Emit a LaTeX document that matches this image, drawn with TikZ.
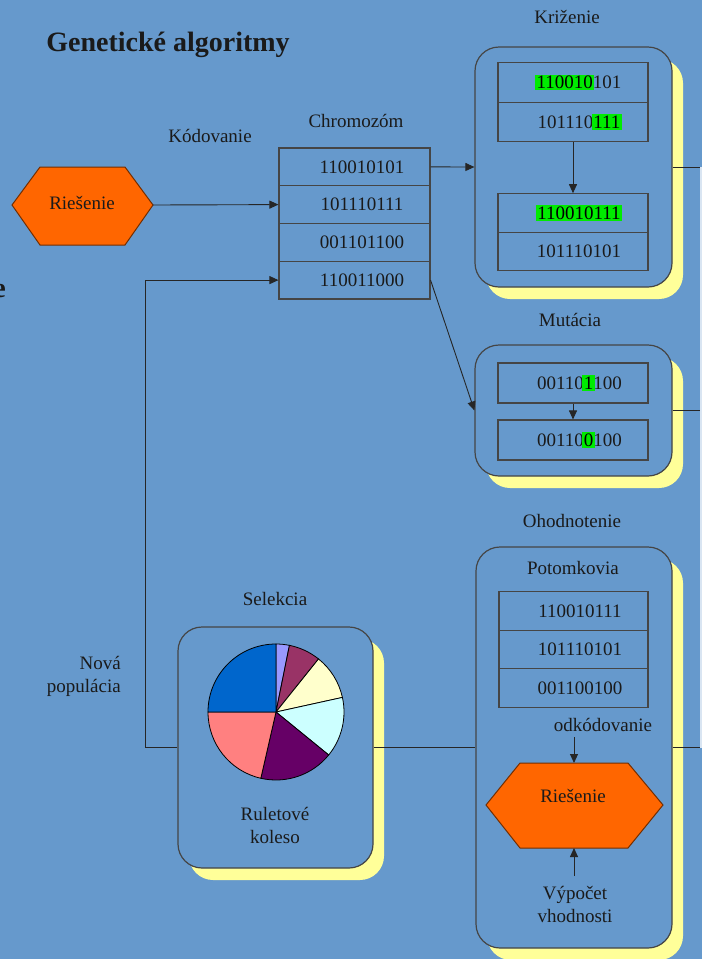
\documentclass[tikz,border=0pt]{standalone}
\usepackage{fontspec}
\setmainfont{Liberation Serif}
\usetikzlibrary{arrows.meta,shadows}
\definecolor{bg}{HTML}{6699CC}
\definecolor{hexor}{HTML}{FF6600}
\definecolor{shadowy}{HTML}{FFFF99}
\definecolor{hlg}{RGB}{0,235,0}
\definecolor{txt}{HTML}{1A1A1A}
\definecolor{edge}{HTML}{454545}
\definecolor{pieA}{HTML}{9999FF}
\definecolor{pieB}{HTML}{993366}
\definecolor{pieC}{HTML}{FFFFCC}
\definecolor{pieD}{HTML}{CCFFFF}
\definecolor{pieE}{HTML}{660066}
\definecolor{pieF}{HTML}{FF8080}
\definecolor{pieG}{HTML}{0066CC}
\newcommand\hlt[1]{{\setlength{\fboxsep}{1.5pt}\hspace*{-1.5pt}\colorbox{hlg}{\vphantom{0}\color{black}#1}\hspace*{-1.5pt}}}
\tikzset{
  lbl/.style={font=\fontsize{19}{23}\selectfont, text=txt, inner sep=0pt},
  rowbox/.style={draw=edge, line width=1.1pt, minimum width=150pt, inner sep=0pt,
    font=\fontsize{19}{23}\selectfont, text=txt},
  rbox/.style={draw=edge, line width=1.2pt, rounded corners=24pt, fill=bg,
    drop shadow={shadow xshift=11pt, shadow yshift=-12pt, fill=shadowy, opacity=1}},
  conn/.style={draw=black!85, line width=0.9pt},
  arr/.style={conn, -{Triangle[length=9pt,width=8pt]}},
  hexa/.style={fill=hexor, draw=black!55!hexor, line width=1pt},
  slice/.style={draw=black, line width=0.8pt}
}
\begin{document}
\begin{tikzpicture}[x=1pt,y=-1pt]
\useasboundingbox (0,0) rectangle (702,959);
\fill[bg] (0,0) rectangle (702,959);
\begin{scope}
  \clip (0,0) rectangle (702,959);
  \node[anchor=east, font=\bfseries\fontsize{28}{32}\selectfont, text=txt, inner sep=0pt] (frag) at (6,291) {e};
\end{scope}

% title and labels
\node[font=\bfseries\fontsize{28}{32}\selectfont, text=txt] (title) at (168,45) {Genetické algoritmy};
\node[lbl] (kod) at (210,136) {Kódovanie};
\node[lbl] (chrom) at (356,121) {Chromozóm};
\node[lbl] (krizl) at (567,17) {Križenie};
\node[lbl] (mutl) at (570,320) {Mutácia};
\node[lbl] (ohodl) at (572,521) {Ohodnotenie};
\node[lbl] (sell) at (275,599) {Selekcia};
\node[lbl, align=right, anchor=east] (nova) at (121,676) {Nová\\populácia};

% left hexagon
\coordinate (hL) at (12,205);
\coordinate (hR) at (153,205);
\draw[hexa] (hL) -- (40,167) -- (125,167) -- (hR) -- (125,245) -- (40,245) -- cycle;
\node[lbl] (sol1) at (82,203) {Riešenie};

% chromosome table
\node[rowbox, minimum width=151pt, minimum height=37.75pt] (c1) at (354.5,166.9) {\hspace*{15pt}110010101};
\node[rowbox, minimum width=151pt, minimum height=37.75pt] (c2) at (354.5,204.6) {\hspace*{15pt}101110111};
\node[rowbox, minimum width=151pt, minimum height=37.75pt] (c3) at (354.5,242.4) {\hspace*{15pt}001101100};
\node[rowbox, minimum width=151pt, minimum height=37.75pt] (c4) at (354.5,280.1) {\hspace*{15pt}110011000};

% boxes
\node[rbox, minimum width=197pt, minimum height=240pt] (kriz) at (573.5,167) {};
\node[rbox, minimum width=197pt, minimum height=131pt] (mut) at (573.5,410.5) {};
\node[rbox, minimum width=196pt, minimum height=401pt] (ohod) at (574,747.5) {};
\node[rbox, minimum width=195pt, minimum height=241pt] (sel) at (275.5,747.5) {};

% crossover content
\node[rowbox, minimum height=39.5pt] (k1) at (573,82.5) {\hspace*{12pt}\hlt{110010}101};
\node[rowbox, minimum height=39.5pt] (k2) at (573,122) {\hspace*{12pt}101110\hlt{111}};
\node[rowbox, minimum height=38.5pt] (k3) at (573,213) {\hspace*{12pt}\hlt{110010111}};
\node[rowbox, minimum height=38.5pt] (k4) at (573,251.5) {\hspace*{12pt}101110101};
\draw[arr] (k2.south) -- (k3.north);

% mutation content
\node[rowbox, minimum height=40pt] (m1) at (573,383) {\hspace*{13pt}00110\hlt{1}100};
\node[rowbox, minimum height=40pt] (m2) at (573,440) {\hspace*{13pt}00110\hlt{0}100};
\draw[arr] (m1.south) -- (m2.north);

% evaluation content
\node[lbl] (potl) at (573,568) {Potomkovia};
\node[rowbox, minimum width=149pt, minimum height=38.5pt] (p1) at (573.5,611) {\hspace*{13pt}110010111};
\node[rowbox, minimum width=149pt, minimum height=38.5pt] (p2) at (573.5,649.5) {\hspace*{13pt}101110101};
\node[rowbox, minimum width=149pt, minimum height=38.5pt] (p3) at (573.5,688) {\hspace*{13pt}001100100};
\node[lbl] (odkl) at (603,725) {odkódovanie};
\coordinate (hT) at (574,763);
\coordinate (hB) at (574,848);
\draw[hexa] (486,805) -- (520,763) -- (628,763) -- (663,805) -- (628,848) -- (520,848) -- cycle;
\node[lbl] (sol2) at (573,796) {Riešenie};
\node[lbl, align=center] (vyp) at (575,904) {Výpočet\\vhodnosti};
\coordinate (odk) at (574,737);
\coordinate (vypt) at (574,876);
\draw[arr] (odk) -- (hT);
\draw[arr] (vypt) -- (hB);

% pie chart (roulette wheel)
\coordinate (pc) at (276,712);
\filldraw[slice, fill=pieA] (pc) -- ++(90:68pt) arc[start angle=90, end angle=78.6, radius=68pt] -- cycle;
\filldraw[slice, fill=pieB] (pc) -- ++(78.6:68pt) arc[start angle=78.6, end angle=51.3, radius=68pt] -- cycle;
\filldraw[slice, fill=pieC] (pc) -- ++(51.3:68pt) arc[start angle=51.3, end angle=12.4, radius=68pt] -- cycle;
\filldraw[slice, fill=pieD] (pc) -- ++(12.4:68pt) arc[start angle=12.4, end angle=-39.2, radius=68pt] -- cycle;
\filldraw[slice, fill=pieE] (pc) -- ++(-39.2:68pt) arc[start angle=-39.2, end angle=-102.9, radius=68pt] -- cycle;
\filldraw[slice, fill=pieF] (pc) -- ++(-102.9:68pt) arc[start angle=-102.9, end angle=-180, radius=68pt] -- cycle;
\filldraw[slice, fill=pieG] (pc) -- ++(180:68pt) arc[start angle=180, end angle=90, radius=68pt] -- cycle;
\node[lbl, align=center] (rul) at (275,825) {Ruletové\\koleso};

% connectors
\draw[arr] (hR) -- (c2.west);
\draw[arr] (c1.east) -- (kriz.west);
\draw[arr] (c4.east) -- (mut.west);
\coordinate (np) at (145,747.5);
\draw[arr] (sel.west) -- (np) |- (c4.west);
\draw[conn] (sel.east) -- (ohod.west);
\coordinate (r1) at (701,167);
\coordinate (r2) at (701,410.5);
\coordinate (r3) at (701,747.5);
\draw[conn] (kriz.east) -- (r1);
\draw[conn] (mut.east) -- (r2);
\draw[conn] (ohod.east) -- (r3);
\draw[white!75!bg, line width=1.2pt] (r1) -- (r3);
\end{tikzpicture}
\end{document}
